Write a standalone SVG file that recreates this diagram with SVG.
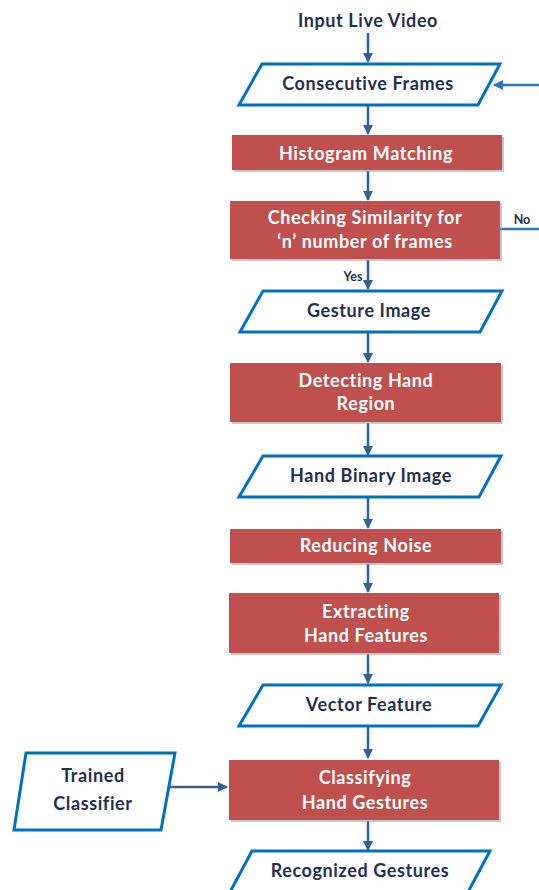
<svg xmlns="http://www.w3.org/2000/svg" width="539" height="890" viewBox="0 0 539 890">
<defs>
<style>
.io{fill:#fff;stroke:#0070c0;stroke-width:3;stroke-linejoin:miter}
.pr{fill:#c0504d}
.sh{fill:#9b9b9b;opacity:0.55}
.t{font-family:Lato,"Open Sans","Liberation Sans",sans-serif;font-weight:bold;font-size:18px;letter-spacing:0.6px;text-anchor:middle}
.dk{fill:#1f3050}
.wt{fill:#ffffff}
.sm{font-family:Lato,"Liberation Sans",sans-serif;font-weight:bold;font-size:12.5px;fill:#1f3050}
.c{fill:none;stroke:#31609c;stroke-width:2.5}
.cb{fill:none;stroke:#2e75c0;stroke-width:2.5}
</style>
<marker id="ah" viewBox="0 0 10 10" refX="9" refY="5" markerWidth="4" markerHeight="4" orient="auto" markerUnits="strokeWidth">
<path d="M0,0 L10,5 L0,10 z" fill="#31609c"/>
</marker>
<marker id="ahb" viewBox="0 0 10 10" refX="9" refY="5" markerWidth="4" markerHeight="4" orient="auto" markerUnits="strokeWidth">
<path d="M0,0 L10,5 L0,10 z" fill="#2e75c0"/>
</marker>
</defs>
<rect width="539" height="890" fill="#fff"/>

<g id="connectors">
<path class="c" d="M368,33 V62" marker-end="url(#ah)"/>
<path class="c" d="M368,106 V134" marker-end="url(#ah)"/>
<path class="c" d="M368,171 V200" marker-end="url(#ah)"/>
<path class="c" d="M368,260 V289" marker-end="url(#ah)"/>
<path class="c" d="M368,333 V362" marker-end="url(#ah)"/>
<path class="c" d="M368,423 V455" marker-end="url(#ah)"/>
<path class="c" d="M368,498 V528" marker-end="url(#ah)"/>
<path class="c" d="M368,564 V592" marker-end="url(#ah)"/>
<path class="c" d="M368,654 V683" marker-end="url(#ah)"/>
<path class="c" d="M368,727 V758" marker-end="url(#ah)"/>
<path class="c" d="M368,821 V850" marker-end="url(#ah)"/>
<path class="c" d="M169,787 H227" marker-end="url(#ah)"/>
<path class="cb" d="M500,229 H548 V85 H494" marker-end="url(#ahb)"/>
<text class="sm" x="522" y="224" text-anchor="middle">No</text>
<text class="sm" x="353" y="281" text-anchor="middle">Yes</text>
</g>

<g id="input-live-video">
<text class="t dk" x="368" y="27">Input Live Video</text>
</g>

<g id="consecutive-frames">
<polygon class="io" points="262,64 500,64 478,105 239,105"/>
<text class="t dk" x="368" y="90">Consecutive Frames</text>
</g>

<g id="histogram-matching">
<rect class="sh" x="234" y="137" width="270" height="35"/>
<rect class="pr" x="232" y="135" width="270" height="35"/>
<text class="t wt" x="366" y="160">Histogram Matching</text>
</g>

<g id="checking-similarity">
<rect class="sh" x="232" y="203" width="270" height="58"/>
<rect class="pr" x="230" y="201" width="270" height="58"/>
<text class="t wt" x="365" y="224">Checking Similarity for</text>
<text class="t wt" x="365" y="248">‘n’ number of frames</text>
</g>

<g id="gesture-image">
<polygon class="io" points="263,291 502,291 480,332 240,332"/>
<text class="t dk" x="369" y="317">Gesture Image</text>
</g>

<g id="detecting-hand-region">
<rect class="sh" x="232" y="365" width="271" height="59"/>
<rect class="pr" x="230" y="363" width="271" height="59"/>
<text class="t wt" x="366" y="387">Detecting Hand</text>
<text class="t wt" x="366" y="410">Region</text>
</g>

<g id="hand-binary-image">
<polygon class="io" points="263,456 501,456 479,497 239,497"/>
<text class="t dk" x="371" y="482">Hand Binary Image</text>
</g>

<g id="reducing-noise">
<rect class="sh" x="232" y="531" width="271" height="34"/>
<rect class="pr" x="230" y="529" width="271" height="34"/>
<text class="t wt" x="366" y="552">Reducing Noise</text>
</g>

<g id="extracting-hand-features">
<rect class="sh" x="231" y="595" width="270" height="60"/>
<rect class="pr" x="229" y="593" width="270" height="60"/>
<text class="t wt" x="366" y="618">Extracting</text>
<text class="t wt" x="366" y="642">Hand Features</text>
</g>

<g id="vector-feature">
<polygon class="io" points="263,685 501,685 478,726 239,726"/>
<text class="t dk" x="369" y="711">Vector Feature</text>
</g>

<g id="trained-classifier">
<polygon class="io" points="26,753 175,753 161,830 14,830"/>
<text class="t dk" x="93" y="782">Trained</text>
<text class="t dk" x="93" y="810">Classifier</text>
</g>

<g id="classifying-hand-gestures">
<rect class="sh" x="231" y="762" width="270" height="60"/>
<rect class="pr" x="229" y="760" width="270" height="60"/>
<text class="t wt" x="365" y="784">Classifying</text>
<text class="t wt" x="365" y="809">Hand Gestures</text>
</g>

<g id="recognized-gestures">
<polygon class="io" points="252,851 490,851 468,892 230,892"/>
<text class="t dk" x="360" y="877">Recognized Gestures</text>
</g>
</svg>
